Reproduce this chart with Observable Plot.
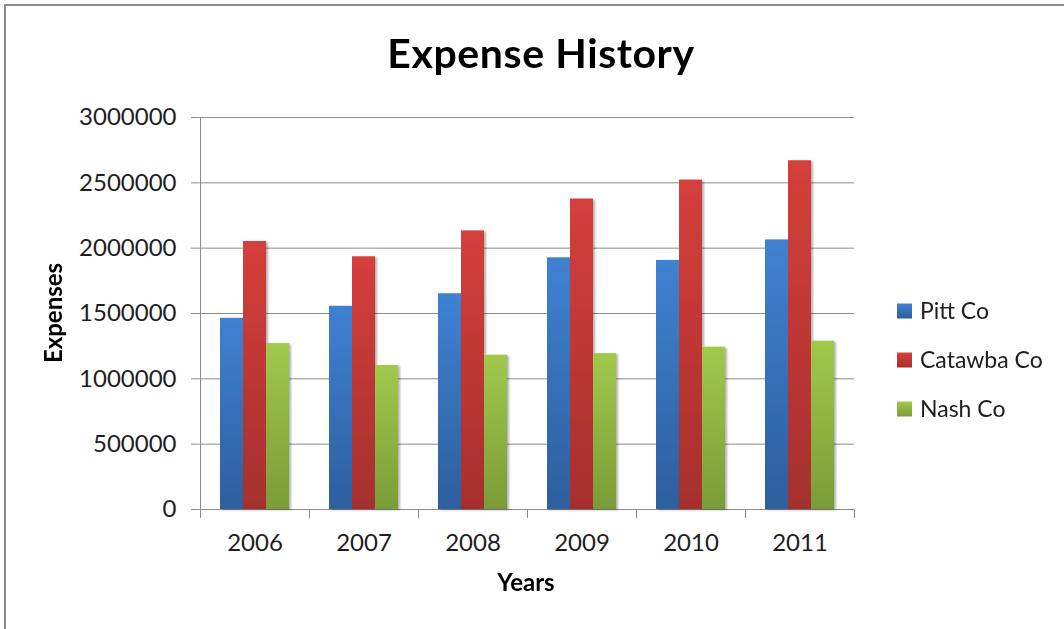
<!DOCTYPE html>
<html>
<head>
<meta charset="utf-8">
<script src="https://cdn.jsdelivr.net/npm/d3@7"></script>
<script src="https://cdn.jsdelivr.net/npm/@observablehq/plot@0.6"></script>
<style>
  html, body { margin: 0; padding: 0; background: #fff; }
  #chart { position: relative; width: 1064px; height: 629px; overflow: hidden; }
  #chart svg { display: block; }
</style>
</head>
<body>
<div id="chart"></div>
<script>
// Annual expenses per county
const years = ["2006", "2007", "2008", "2009", "2010", "2011"];
const series = ["Pitt Co", "Catawba Co", "Nash Co"];
const pittCo = [1463000, 1555000, 1651000, 1926000, 1906000, 2063000];
const catawbaCo = [2051000, 1934000, 2132000, 2376000, 2521000, 2669000];
const nashCo = [1270000, 1102000, 1181000, 1193000, 1242000, 1288000];
const yTicks = [0, 500000, 1000000, 1500000, 2000000, 2500000, 3000000];

// Bar gradient stops (top, bottom) for each series
const barColors = [
  ["#3f82d2", "#2d5e9e"],
  ["#d53f3b", "#a52f2d"],
  ["#a1c94c", "#7a9c37"]
];

const values = [pittCo, catawbaCo, nashCo];
const rows = years.flatMap((year, i) =>
  series.map((s, j) => ({year, series: s, value: values[j][i]}))
);

const W = 1064, H = 629;
const mTop = 117, mBottom = 120, mLeft = 199, mRight = 210;
const plotH = H - mTop - mBottom;
const facetW = (W - mLeft - mRight) / years.length;
const gridColor = "#8c8c8c";
const font = "Lato, 'Open Sans', sans-serif";

const chart = Plot.plot({
  width: W,
  height: H,
  marginTop: mTop,
  marginBottom: mBottom,
  marginLeft: mLeft,
  marginRight: mRight,
  style: {fontFamily: font, fontSize: "24px", color: "#1e1e1e", background: "transparent", overflow: "visible"},
  fx: {domain: years, paddingInner: 0, paddingOuter: 0, label: null, tickSize: 0, tickPadding: 24, axis: "bottom"},
  x: {domain: series, axis: null, paddingInner: 0, paddingOuter: 0.78},
  y: {domain: [0, 3000000], ticks: yTicks, tickFormat: d3.format("d"), tickSize: 0, tickPadding: 24, label: null},
  color: {domain: series, range: series.map((_, i) => `url(#bar-grad-${i})`)},
  marks: [
    // horizontal gridlines
    Plot.ruleY(yTicks, {stroke: gridColor, strokeWidth: 1}),
    // short value-axis ticks left of the axis line
    Plot.ruleY(yTicks, {stroke: gridColor, strokeWidth: 1, insetLeft: -9, insetRight: facetW, facetAnchor: "left"}),
    Plot.barY(rows, {fx: "year", x: "series", y: "value", fill: "series"}),
    // value axis line
    Plot.frame({anchor: "left", facetAnchor: "left", insetBottom: -8, stroke: gridColor}),
    // category separators below the baseline
    Plot.frame({anchor: "right", insetTop: plotH, insetBottom: -8, stroke: gridColor})
  ]
});

document.getElementById("chart").appendChild(chart);

const svg = d3.select(chart);
const defs = svg.insert("defs", ":first-child");
barColors.forEach(([top, bottom], i) => {
  const g = defs.append("linearGradient")
    .attr("id", `bar-grad-${i}`)
    .attr("x1", 0).attr("y1", 0).attr("x2", 0).attr("y2", 1);
  g.append("stop").attr("offset", "0%").attr("stop-color", top);
  g.append("stop").attr("offset", "100%").attr("stop-color", bottom);
});
const shadow = defs.append("filter").attr("id", "bar-shadow")
  .attr("x", "-20%").attr("y", "-5%").attr("width", "150%").attr("height", "115%");
shadow.append("feDropShadow")
  .attr("dx", 2).attr("dy", 1).attr("stdDeviation", 1.2)
  .attr("flood-color", "#000").attr("flood-opacity", 0.3);
svg.selectAll('g[aria-label="bar"]').attr("filter", "url(#bar-shadow)");

// outer chart border
svg.append("rect")
  .attr("x", 5).attr("y", 5).attr("width", W + 20).attr("height", H + 20)
  .attr("fill", "none").attr("stroke", "#8d8d8d").attr("stroke-width", 2);

// title and axis titles
svg.append("text")
  .attr("x", 541).attr("y", 68)
  .attr("text-anchor", "middle")
  .attr("font-family", font).attr("font-weight", "bold").attr("font-size", 41)
  .attr("letter-spacing", 0.6)
  .attr("fill", "#000")
  .text("Expense History");

svg.append("text")
  .attr("transform", "translate(62,313) rotate(-90)")
  .attr("text-anchor", "middle")
  .attr("font-family", font).attr("font-weight", "bold").attr("font-size", 24)
  .attr("fill", "#000")
  .text("Expenses");

svg.append("text")
  .attr("x", 526).attr("y", 591)
  .attr("text-anchor", "middle")
  .attr("font-family", font).attr("font-weight", "bold").attr("font-size", 24)
  .attr("fill", "#000")
  .text("Years");

// legend
const legend = svg.append("g")
  .attr("font-family", font).attr("font-size", 23)
  .attr("text-anchor", "start");
series.forEach((s, i) => {
  const cy = 311 + i * 49;
  legend.append("rect")
    .attr("x", 897).attr("y", cy - 7.5).attr("width", 15).attr("height", 15)
    .attr("fill", `url(#bar-grad-${i})`);
  legend.append("text")
    .attr("x", 920).attr("y", cy + 8)
    .attr("text-anchor", "start")
    .attr("fill", "#1e1e1e")
    .text(s);
});
</script>
</body>
</html>
